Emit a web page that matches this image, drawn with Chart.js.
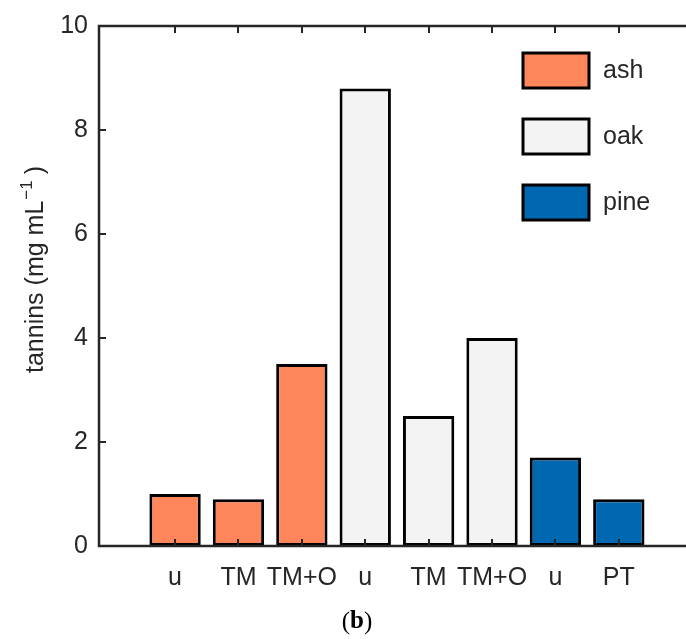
<!DOCTYPE html>
<html lang="en">
<head>
  <meta charset="UTF-8" />
  <title>tannins</title>
  <script src="https://cdn.jsdelivr.net/npm/chart.js"></script>
  <style>
    html, body { margin: 0; padding: 0; background: #ffffff; }
    #wrap { width: 686px; height: 639px; }
  </style>
</head>
<body>
  <div id="wrap"><canvas id="tanninChart" width="686" height="639"></canvas></div>

  <script>
    // data
    const categories = ["u", "TM", "TM+O", "u", "TM", "TM+O", "u", "PT"];
    const woods = ["ash", "oak", "pine"];
    const ashValues = [1.0, 0.9, 3.5, null, null, null, null, null];
    const oakValues = [null, null, null, 8.8, 2.5, 4.0, null, null];
    const pineValues = [null, null, null, null, null, null, 1.7, 0.9];
    const yTicks = [0, 2, 4, 6, 8, 10];

    const woodColors = ["#fe865a", "#f3f3f3", "#0068b0"];
    const ink = "#262626";
    const font = "'Liberation Sans', Arial, sans-serif";
    const fontSize = 25;

    function toPoints(vals) {
      return vals.map((v, i) => (v === null ? null : { x: i, y: v })).filter(Boolean);
    }

    // axes box with inward ticks (MATLAB style)
    const frame = {
      id: "frame",
      afterDatasetsDraw(chart) {
        const { ctx, chartArea } = chart;
        const xs = chart.scales.x, ys = chart.scales.y;
        const t = 7;
        ctx.save();
        ctx.strokeStyle = ink;
        ctx.lineWidth = 2.5;
        ctx.beginPath();
        ctx.moveTo(chartArea.right + 2, chartArea.top);
        ctx.lineTo(chartArea.left, chartArea.top);
        ctx.lineTo(chartArea.left, chartArea.bottom);
        ctx.lineTo(chartArea.right + 2, chartArea.bottom);
        ctx.stroke();
        ctx.lineWidth = 2;
        ctx.beginPath();
        categories.forEach((c, i) => {
          const px = Math.round(xs.getPixelForValue(i));
          ctx.moveTo(px, chartArea.bottom);
          ctx.lineTo(px, chartArea.bottom - t);
          ctx.moveTo(px, chartArea.top);
          ctx.lineTo(px, chartArea.top + t);
        });
        yTicks.forEach(v => {
          const py = Math.round(ys.getPixelForValue(v));
          ctx.moveTo(chartArea.left, py);
          ctx.lineTo(chartArea.left + t, py);
        });
        ctx.stroke();
        ctx.restore();
      }
    };

    // y label with a real superscript
    const yLabel = {
      id: "yLabel",
      afterDraw(chart) {
        const { ctx } = chart;
        ctx.save();
        ctx.translate(36, 373);
        ctx.rotate(-Math.PI / 2);
        ctx.fillStyle = ink;
        ctx.textBaseline = "middle";
        let x = 0;
        ctx.font = fontSize + "px " + font;
        ctx.fillText("tannins (mg mL", x, 0);
        x += ctx.measureText("tannins (mg mL").width;
        ctx.font = "17px " + font;
        ctx.fillText("\u22121", x + 1, -9);
        x += ctx.measureText("\u22121").width + 7;
        ctx.font = fontSize + "px " + font;
        ctx.fillText(")", x, 0);
        ctx.restore();
      }
    };

    // boxed legend in the upper right corner
    const boxLegend = {
      id: "boxLegend",
      afterDraw(chart) {
        const { ctx } = chart;
        ctx.save();
        chart.data.datasets.forEach((ds, i) => {
          const bx = 523, by = 53 + i * 66, bw = 66, bh = 35;
          ctx.fillStyle = ds.backgroundColor;
          ctx.fillRect(bx, by, bw, bh);
          ctx.strokeStyle = "#000";
          ctx.lineWidth = 3;
          ctx.strokeRect(bx, by, bw, bh);
          ctx.fillStyle = ink;
          ctx.font = fontSize + "px " + font;
          ctx.textBaseline = "middle";
          ctx.fillText(ds.label, 603, by + bh / 2 + 1);
        });
        ctx.restore();
      }
    };

    // panel caption "(b)"
    const caption = {
      id: "caption",
      afterDraw(chart) {
        const { ctx } = chart;
        ctx.save();
        ctx.fillStyle = "#000";
        ctx.textBaseline = "middle";
        const serif = "'Liberation Serif', 'Times New Roman', serif";
        const parts = [["(", "25px " + serif], ["b", "bold 25px " + serif], [")", "25px " + serif]];
        let w = 0;
        parts.forEach(p => { ctx.font = p[1]; w += ctx.measureText(p[0]).width; });
        let x = 357 - w / 2;
        parts.forEach(p => {
          ctx.font = p[1];
          ctx.fillText(p[0], x, 622);
          x += ctx.measureText(p[0]).width;
        });
        ctx.restore();
      }
    };

    const valueLists = [ashValues, oakValues, pineValues];

    new Chart(document.getElementById("tanninChart"), {
      type: "bar",
      data: {
        datasets: woods.map((w, i) => ({
          label: w,
          data: toPoints(valueLists[i]),
          backgroundColor: woodColors[i],
          borderColor: "#000",
          borderWidth: 3,
          borderSkipped: false,
          grouped: false,
          categoryPercentage: 1,
          barPercentage: 0.81
        }))
      },
      options: {
        responsive: false,
        animation: false,
        devicePixelRatio: 1,
        layout: { padding: { top: 22, right: 0, left: 0, bottom: 0 } },
        plugins: {
          legend: { display: false },
          tooltip: { enabled: false }
        },
        scales: {
          x: {
            type: "linear",
            offset: false,
            min: -1.2,
            max: 8.06,
            grid: { display: false, drawTicks: false },
            border: { display: false },
            afterBuildTicks: scale => { scale.ticks = categories.map((c, i) => ({ value: i })); },
            afterFit: scale => { scale.height = 93; },
            ticks: {
              autoSkip: false,
              maxRotation: 0,
              padding: 17,
              color: ink,
              font: { family: font, size: fontSize },
              callback: v => categories[v]
            }
          },
          y: {
            min: 0,
            max: 10,
            grid: { display: false, drawTicks: false },
            border: { display: false },
            afterFit: scale => { scale.width = 99; },
            ticks: {
              stepSize: 2,
              padding: 11,
              color: ink,
              font: { family: font, size: fontSize }
            }
          }
        }
      },
      plugins: [frame, yLabel, boxLegend, caption]
    });
  </script>
</body>
</html>
